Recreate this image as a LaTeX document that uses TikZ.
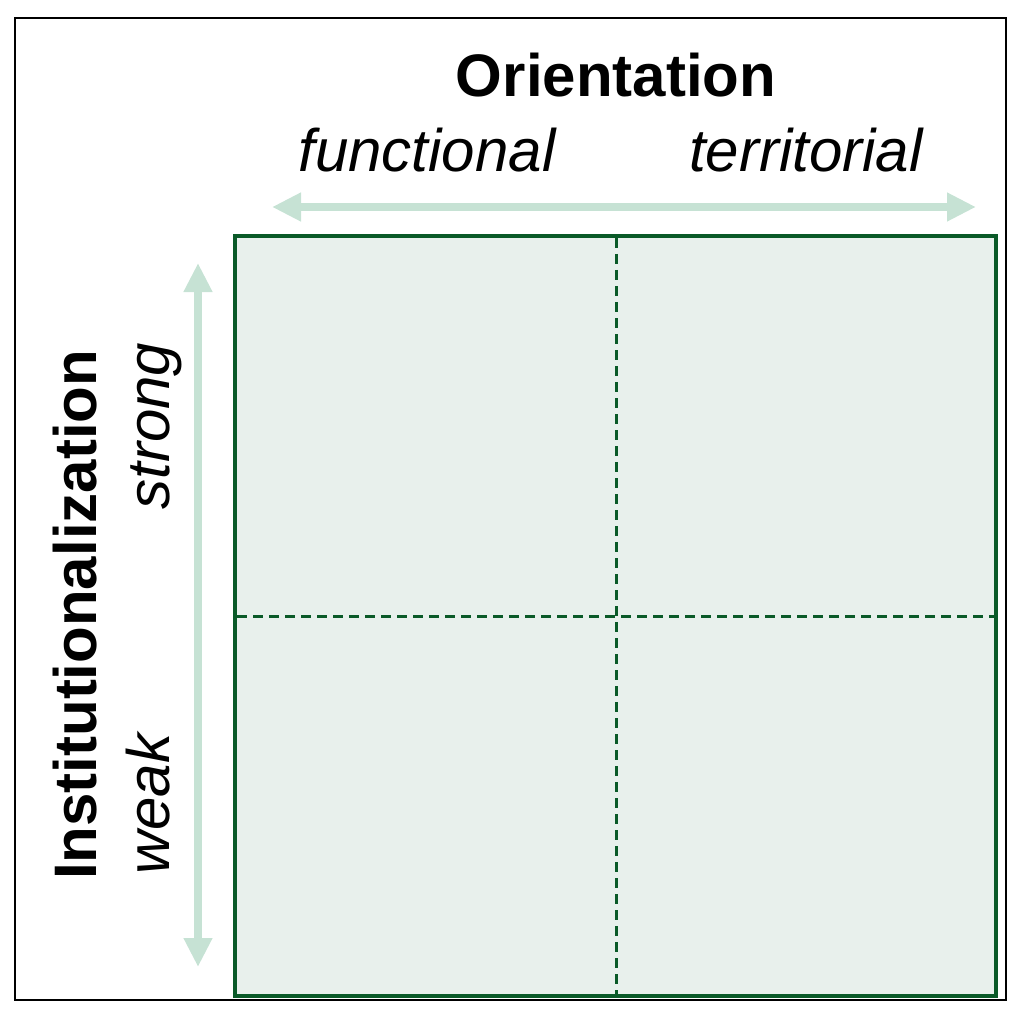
\documentclass[tikz,border=0pt]{standalone}
\usepackage{fontspec}
\setmainfont{Liberation Sans}
\usetikzlibrary{arrows.meta}
\definecolor{boxfill}{RGB}{232,240,236}
\definecolor{boxline}{RGB}{10,90,40}
\definecolor{arrowcol}{RGB}{198,226,212}
\tikzset{
  lbl/.style={inner sep=0pt, anchor=base, font=\fontsize{30pt}{36pt}\selectfont},
  axisarrow/.style={draw=arrowcol, line width=4pt, {Triangle[length=14.5pt,width=13.5pt]}-{Triangle[length=14.5pt,width=13.5pt]}},
  divider/.style={draw=boxline, line width=1.5pt, dash pattern=on 5pt off 3pt},
}
\begin{document}
\begin{tikzpicture}[x=0.5pt,y=-0.5pt]
\useasboundingbox (0,0) rectangle (1024,1022);
\draw[black, line width=1pt] (15,18) rectangle (1006,1000);
% grid box
\draw[fill=boxfill, draw=boxline, line width=2pt] (235,236) rectangle (996,996);
\draw[divider] (616,238) -- (616,994);
\draw[divider] (237,616) -- (994,616);
% arrows
\coordinate (hL) at (272,207);
\coordinate (hR) at (976,207);
\coordinate (vT) at (198,263);
\coordinate (vB) at (198,967);
\draw[axisarrow] (hL) -- (hR);
\draw[axisarrow] (vT) -- (vB);
% labels
\node[lbl, font=\fontsize{30pt}{36pt}\selectfont\bfseries] (orient) at (616,97) {Orientation};
\node[lbl, font=\fontsize{30pt}{36pt}\selectfont\itshape] (func) at (427,172) {functional};
\node[lbl, font=\fontsize{30pt}{36pt}\selectfont\itshape] (terr) at (806,172) {territorial};
\node[lbl, rotate=90, font=\fontsize{30pt}{36pt}\selectfont\bfseries] (inst) at (96,615) {Institutionalization};
\node[lbl, rotate=90, font=\fontsize{30pt}{36pt}\selectfont\itshape] (strong) at (169,426) {strong};
\node[lbl, rotate=90, font=\fontsize{30pt}{36pt}\selectfont\itshape] (weak) at (169,804) {weak};
\end{tikzpicture}
\end{document}
